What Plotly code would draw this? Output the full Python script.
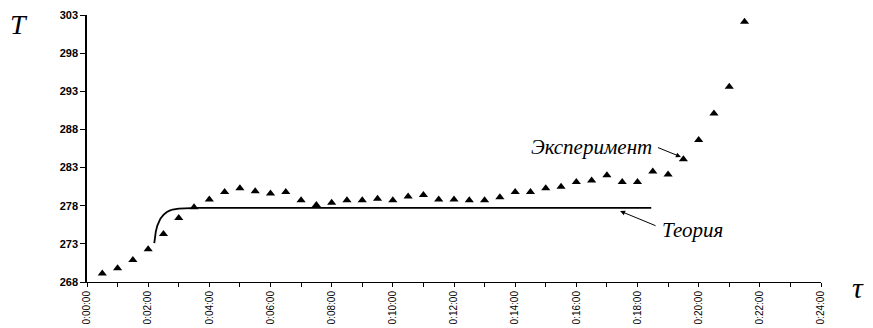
import plotly.graph_objects as go

# Experiment (time in minutes, temperature T)
exp_time = [0.5, 1.0, 1.5, 2.0, 2.5, 3.0, 3.5, 4.0, 4.5, 5.0, 5.5, 6.0, 6.5, 7.0,
            7.5, 8.0, 8.5, 9.0, 9.5, 10.0, 10.5, 11.0, 11.5, 12.0, 12.5, 13.0,
            13.5, 14.0, 14.5, 15.0, 15.5, 16.0, 16.5, 17.0, 17.5, 18.0, 18.5,
            19.0, 19.5, 20.0, 20.5, 21.0, 21.5]
exp_T = [269.1, 269.8, 270.9, 272.3, 274.3, 276.4, 277.8, 278.8, 279.8, 280.3,
         279.9, 279.6, 279.8, 278.7, 278.1, 278.4, 278.7, 278.7, 278.9, 278.7,
         279.2, 279.4, 278.8, 278.8, 278.7, 278.7, 279.1, 279.8, 279.8, 280.3,
         280.5, 281.1, 281.3, 282.0, 281.1, 281.1, 282.5, 282.1, 284.1, 286.6,
         290.1, 293.6, 302.1]

# Theory curve
th_time = [2.2, 2.22, 2.25, 2.3, 2.35, 2.4, 2.5, 2.6, 2.7, 2.8, 3.0, 3.3, 3.6,
           4.0, 6.0, 8.0, 10.0, 12.0, 14.0, 16.0, 18.0, 18.45]
th_T = [273.1, 273.9, 274.6, 275.4, 275.9, 276.3, 276.8, 277.15, 277.35, 277.5,
        277.62, 277.7, 277.72, 277.72, 277.72, 277.72, 277.72, 277.72, 277.72,
        277.72, 277.72, 277.72]

x_tickvals = [0, 2, 4, 6, 8, 10, 12, 14, 16, 18, 20, 22, 24]
x_ticktext = ["0:00:00", "0:02:00", "0:04:00", "0:06:00", "0:08:00", "0:10:00",
              "0:12:00", "0:14:00", "0:16:00", "0:18:00", "0:20:00", "0:22:00",
              "0:24:00"]
y_tickvals = [268, 273, 278, 283, 288, 293, 298, 303]

fig = go.Figure()
fig.add_trace(go.Scatter(x=th_time, y=th_T, mode="lines",
                         line=dict(color="black", width=1.8),
                         hoverinfo="skip", showlegend=False))
fig.add_trace(go.Scatter(x=exp_time, y=exp_T, mode="markers",
                         marker=dict(symbol="triangle-up", size=8, color="black"),
                         showlegend=False))

serif = "Liberation Serif"
fig.add_annotation(x=19.42, y=284.4, xref="x", yref="y", ax=18.62, ay=285.7,
                   axref="x", ayref="y", text="", showarrow=True,
                   arrowhead=2, arrowsize=1, arrowwidth=1, arrowcolor="black")
fig.add_annotation(x=18.55, y=285.7, xref="x", yref="y",
                   text="<i>Эксперимент</i>", showarrow=False, xanchor="right",
                   font=dict(family=serif, size=21, color="black"))
fig.add_annotation(x=17.43, y=277.3, xref="x", yref="y", ax=18.64, ay=275.3,
                   axref="x", ayref="y", text="", showarrow=True,
                   arrowhead=2, arrowsize=1, arrowwidth=1, arrowcolor="black")
fig.add_annotation(x=18.75, y=274.8, xref="x", yref="y",
                   text="<i>Теория</i>", showarrow=False, xanchor="left",
                   font=dict(family=serif, size=21, color="black"))

fig.add_annotation(x=-0.108, y=1.03, xref="paper", yref="paper", text="<i>T</i>",
                   showarrow=False, xanchor="left", yanchor="top",
                   font=dict(family=serif, size=28, color="black"))
fig.add_annotation(x=1.05, y=-0.02, xref="paper", yref="paper", text="<i>τ</i>",
                   showarrow=False, xanchor="center", yanchor="middle",
                   font=dict(family=serif, size=30, color="black"))

fig.update_layout(
    width=873, height=328,
    margin=dict(l=79, r=60, t=7, b=54, autoexpand=False),
    paper_bgcolor="white", plot_bgcolor="white",
)

fig.update_xaxes(range=[0, 24], tickvals=x_tickvals, ticktext=x_ticktext,
                 tickangle=-90, showgrid=False, zeroline=False, automargin=False,
                 showline=True, linecolor="black", linewidth=1,
                 ticks="outside", ticklen=4, tickcolor="black",
                 minor=dict(tickvals=list(range(1, 24, 2)), ticks="outside",
                            ticklen=4, tickcolor="black"),
                 tickfont=dict(family="Liberation Sans", size=10, color="black"))
fig.update_yaxes(range=[268, 303], tickvals=y_tickvals, showgrid=False,
                 zeroline=False, showline=True, linecolor="black", linewidth=1.5,
                 automargin=False, ticks="outside", ticklen=5, tickcolor="black",
                 tickfont=dict(family="Liberation Sans", size=11, color="black",
                               weight="bold"))

fig.write_html("out.html")
